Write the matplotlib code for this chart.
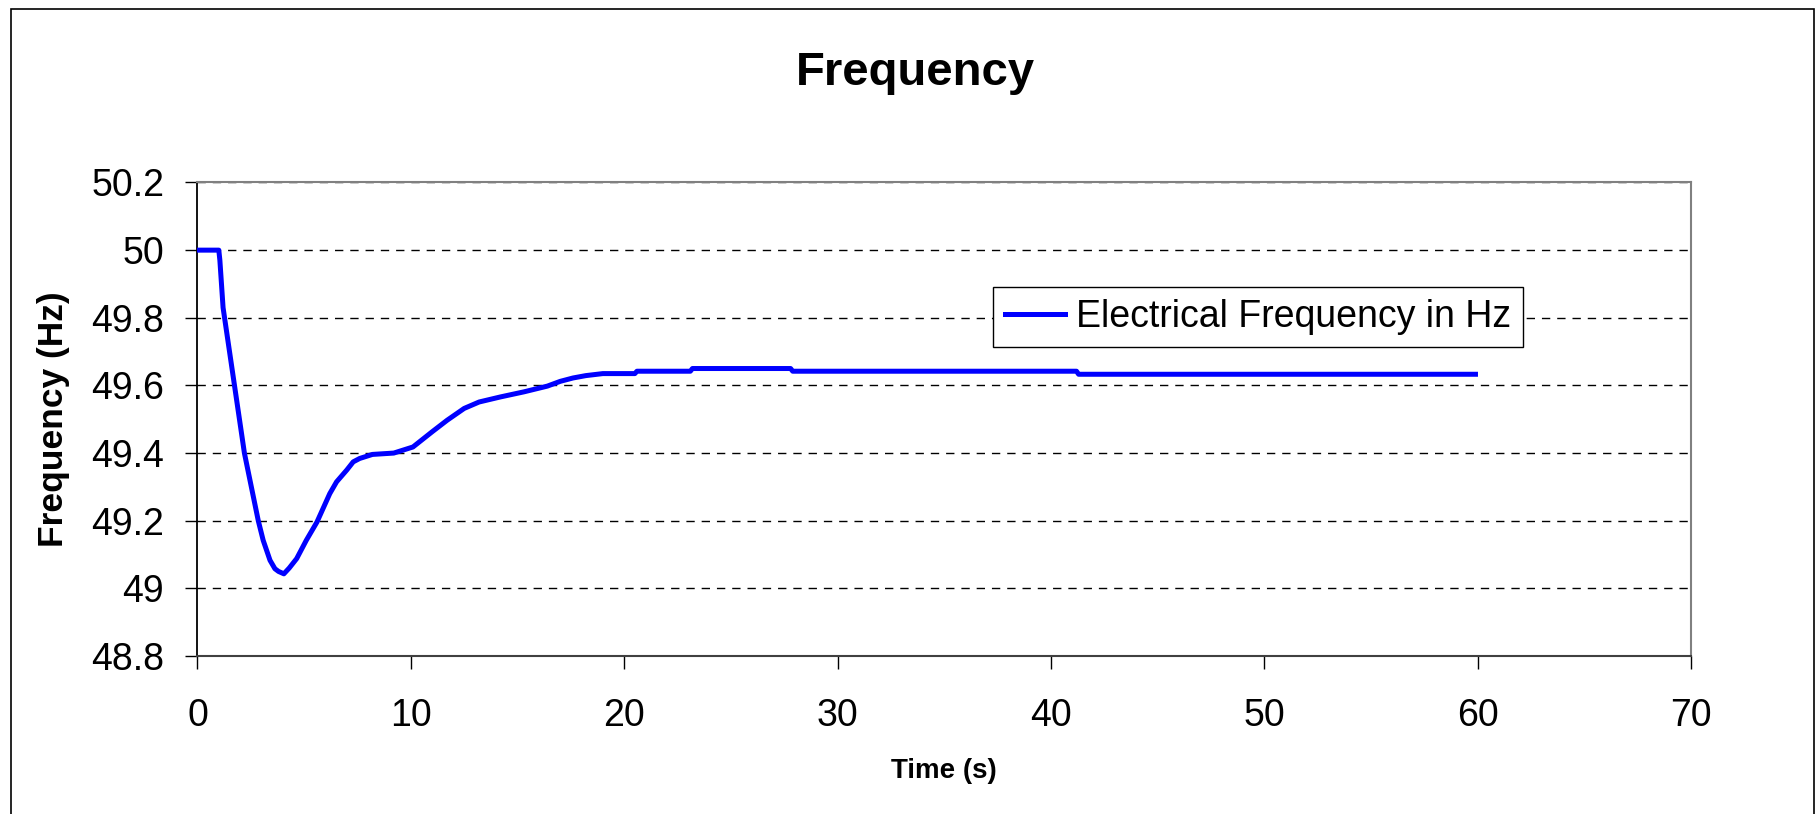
import matplotlib.pyplot as plt
from matplotlib.patches import Rectangle

plt.rcParams['font.family'] = ['Liberation Sans', 'DejaVu Sans']

# Data
time_s = [0, 1.0, 1.05, 1.2, 1.7, 2.2, 2.85, 3.08, 3.4, 3.63, 3.8, 4.05, 4.3, 4.65, 5.1,
          5.6, 6.2, 6.52, 7.0, 7.3, 7.6, 8.2, 9.2, 10.1, 11.0, 11.7, 12.5, 13.2, 14.2,
          15.3, 16.4, 17.0, 17.6, 18.2, 19.0, 20.5, 20.6, 23.1, 23.2, 27.8, 27.9, 41.2,
          41.3, 59.9]
freq_hz = [50.0, 50.0, 49.97, 49.83, 49.615, 49.40, 49.20, 49.142, 49.083, 49.058, 49.05,
           49.043, 49.06, 49.088, 49.142, 49.196, 49.28, 49.315, 49.35, 49.374, 49.384,
           49.396, 49.40, 49.418, 49.463, 49.497, 49.532, 49.551, 49.566, 49.581, 49.598,
           49.612, 49.622, 49.629, 49.635, 49.635, 49.642, 49.642, 49.65, 49.65, 49.642,
           49.642, 49.633, 49.633]

x_ticks = [0, 10, 20, 30, 40, 50, 60, 70]
y_ticks = [48.8, 49.0, 49.2, 49.4, 49.6, 49.8, 50.0, 50.2]
y_tick_labels = ['48.8', '49', '49.2', '49.4', '49.6', '49.8', '50', '50.2']

fig = plt.figure(figsize=(18.2, 8.14), dpi=100)
ax = fig.add_axes([0.1085, 0.1941, 0.8206, 0.5817])

# Plot the frequency curve
ax.plot(time_s, freq_hz, color='#0000FF', linewidth=3.6, solid_joinstyle='round',
        label='Electrical Frequency in Hz', zorder=3)

# Axis limits and ticks
ax.set_xlim(0, 70)
ax.set_ylim(48.8, 50.2)
ax.set_xticks(x_ticks)
ax.set_yticks(y_ticks)
ax.set_yticklabels(y_tick_labels)
ax.tick_params(axis='both', direction='out', length=9, width=1, color='black',
               labelsize=27, labelcolor='black')
ax.tick_params(axis='x', pad=21)
ax.tick_params(axis='y', pad=15)

# Dashed horizontal gridlines
ax.set_axisbelow(True)
ax.yaxis.grid(True, color='black', linewidth=1.0, linestyle=(0, (6, 5)))

# Spines
ax.spines['left'].set_color('black')
ax.spines['left'].set_linewidth(1.3)
ax.spines['bottom'].set_color('#404040')
ax.spines['bottom'].set_linewidth(1.5)
ax.spines['top'].set_color('#808080')
ax.spines['top'].set_linewidth(1.5)
ax.spines['right'].set_color('#808080')
ax.spines['right'].set_linewidth(1.5)

# Labels
ax.set_xlabel('Time (s)', fontsize=20, fontweight='bold', va='baseline')
ax.xaxis.set_label_coords(0.5, -0.2577)
ax.set_ylabel('Frequency (Hz)', fontsize=25.5, fontweight='bold', va='center')
ax.yaxis.set_label_coords(-0.0961, 0.5)

fig.text(0.5027, 0.8956, 'Frequency', fontsize=34, fontweight='bold',
         ha='center', va='baseline')

# Legend
leg = ax.legend(loc='upper left', bbox_to_anchor=(993 / 1820, 1 - 287 / 814),
                bbox_transform=fig.transFigure, borderaxespad=0, fontsize=27,
                handlelength=1.6, handletextpad=0.3, borderpad=0.32,
                fancybox=False, framealpha=1, edgecolor='black')
leg.get_frame().set_linewidth(1.0)

# Outer chart border
fig.add_artist(Rectangle((11 / 1820, -0.02), (1814 - 11) / 1820, 1 - 9 / 814 + 0.02,
                         transform=fig.transFigure, fill=False, edgecolor='black',
                         linewidth=1.2, clip_on=False))

fig.savefig('out.png', dpi=100)
